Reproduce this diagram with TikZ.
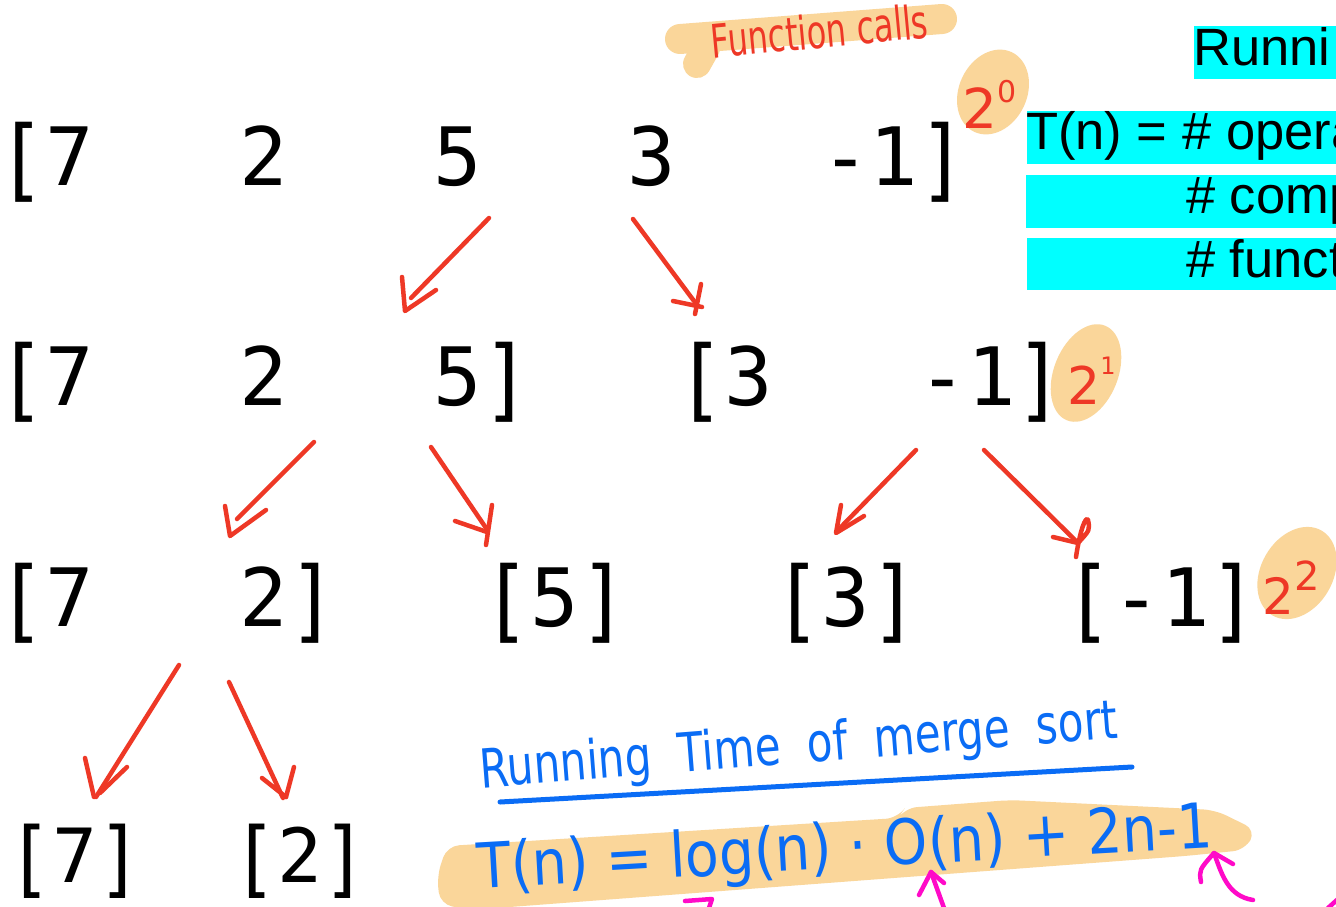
\documentclass[tikz,border=0pt]{standalone}
\usepackage{fontspec}
\usepackage{graphicx}
\newfontfamily\monof{DejaVu Sans Mono}
\newfontfamily\handf{DejaVu Sans}
\newfontfamily\arialf{Liberation Sans}
\definecolor{penred}{RGB}{238,56,38}
\definecolor{penblue}{RGB}{10,108,245}
\definecolor{penmag}{RGB}{255,10,200}
\definecolor{hlc}{RGB}{250,214,154}
\definecolor{cyanc}{RGB}{0,255,255}
\newcommand{\LB}{\raisebox{-5pt}{\scalebox{1}[1.117]{[}}}
\newcommand{\RB}{\raisebox{-5pt}{\scalebox{1}[1.117]{]}}}
\begin{document}
\begin{tikzpicture}[x=1pt,y=-1pt,
  rowtxt/.style={anchor=base west, inner sep=0pt, font=\monof\fontsize{80.5}{90}\selectfont},
  rowsmall/.style={anchor=base west, inner sep=0pt, font=\monof\fontsize{74.75}{84}\selectfont},
  rtxt/.style={anchor=base west, inner sep=0pt, font=\arialf\fontsize{52.5}{56}\selectfont},
  redt/.style={inner sep=0pt, text=penred, font=\handf},
  bluet/.style={inner sep=0pt, text=penblue, font=\handf},
  arr/.style={draw=penred, line width=4.5pt, line cap=round, line join=round},
  mag/.style={draw=penmag, line width=4.5pt, line cap=round, line join=round},
  bline/.style={draw=penblue, line width=5pt, line cap=round},
  cyanbox/.style={fill=cyanc, draw=none}]
\useasboundingbox (0,0) rectangle (1336,906);
\clip (0,0) rectangle (1336,906);
\fill[white] (0,0) rectangle (1336,906);

% ---------- highlighter marks ----------
\draw[hlc, line width=30pt, line cap=round] (680,39) -- (942,19);
\draw[hlc, line width=28pt, line cap=round] (706,48) -- (697,64);
\fill[hlc, rotate around={-25:(993,92)}] (993,92) ellipse [x radius=34, y radius=44];
\fill[hlc, rotate around={-22:(1086,373)}] (1086,373) ellipse [x radius=32, y radius=51];
\fill[hlc, rotate around={-30:(1297,573)}] (1297,573) ellipse [x radius=36, y radius=49];
\fill[hlc, rounded corners=12pt] (437,876) -- (447,846) -- (898,818) -- (905,808)
  -- (1010,800) -- (1215,810) -- (1256,830) -- (1245,850) -- (1185,856)
  -- (470,910) -- (440,904) -- cycle;

% ---------- cyan boxes & right text ----------
\fill[cyanbox] (1194,26) rectangle (1340,79);
\fill[cyanbox] (1027,111) rectangle (1340,164);
\fill[cyanbox] (1026,175) rectangle (1340,228);
\fill[cyanbox] (1027,238) rectangle (1340,290);
\node[rtxt] (rt0) at (1193,65) {Runni};
\node[rtxt] (rt1) at (1026,149) {T(n) = \# opera};
\node[rtxt] (rt2) at (1186,213) {\# comp};
\node[rtxt] (rt3) at (1186,277) {\# funct};

% ---------- arrays ----------
\node[rowtxt] (r1) at (-2.75,185) {\LB 7~~~2~~~5~~~3~~~-1\RB};
\node[rowtxt] (r2a) at (-2.75,405) {\LB 7~~~2~~~5\RB};
\node[rowtxt] (r2b) at (676.25,405) {\LB 3~~~-1\RB};
\node[rowtxt] (r3a) at (-2.75,626) {\LB 7~~~2\RB};
\node[rowtxt] (r3b) at (482.25,626) {\LB 5\RB};
\node[rowtxt] (r3c) at (773.25,626) {\LB 3\RB};
\node[rowtxt] (r3d) at (1064.25,626) {\LB -1\RB};
\node[rowsmall] (r4a) at (7.5,882) {\LB 7\RB};
\node[rowsmall] (r4b) at (232.5,882) {\LB 2\RB};

% ---------- red annotations ----------
\node[redt, rotate=5.4, anchor=base, font=\handf\fontsize{32}{36}\selectfont] (fc) at (821,48) {\scalebox{1}[1.45]{Function calls}};
\node[redt, anchor=base west, font=\handf\fontsize{55}{60}\selectfont] (p0) at (962,128) {2\raisebox{26pt}{\fontsize{30}{30}\selectfont 0}};
\node[redt, anchor=base west, font=\handf\fontsize{52}{56}\selectfont] (p1) at (1067,404) {2\raisebox{30pt}{\fontsize{24}{24}\selectfont 1}};
\node[redt, anchor=base west, font=\handf\fontsize{50}{56}\selectfont] (p2) at (1262,614) {2\raisebox{24pt}{\fontsize{40}{40}\selectfont 2}};

% ---------- red arrows ----------
\coordinate (a1s) at (489,218); \coordinate (a1e) at (411,298);
\coordinate (a2s) at (633,219); \coordinate (a2e) at (694,301);
\coordinate (a3s) at (314,442); \coordinate (a3e) at (237,519);
\coordinate (a4s) at (431,447); \coordinate (a4e) at (486,528);
\coordinate (a5s) at (916,450); \coordinate (a5e) at (840,528);
\coordinate (a6s) at (984,450); \coordinate (a6e) at (1078,543);
\coordinate (a7s) at (179,665); \coordinate (a7e) at (96,797);
\coordinate (a8s) at (229,682); \coordinate (a8e) at (283,798);
\draw[arr] (a1s) -- (a1e);
\draw[arr] (402,277) -- (405,311) -- (436,290);
\draw[arr] (a2s) -- (a2e);
\draw[arr] (701,284) -- (695,314);
\draw[arr] (673,301) -- (702,307);
\draw[arr] (a3s) -- (a3e);
\draw[arr] (225,506) -- (230,536) -- (266,510);
\draw[arr] (a4s) -- (a4e);
\draw[arr] (492,505) -- (486,545);
\draw[arr] (455,521) -- (487,532);
\draw[arr] (a5s) -- (a5e);
\draw[arr] (841,505) -- (836,533) -- (864,516);
\draw[arr] (a6s) -- (a6e);
\draw[arr] (1076,557) .. controls (1080,530) and (1086,515) .. (1088,520) .. controls (1090,530) .. (1078,543);
\draw[arr] (1053,537) -- (1078,543);
\draw[arr] (a7s) -- (a7e);
\draw[arr] (85,758) -- (94,797);
\draw[arr] (127,767) -- (100,793);
\draw[arr] (a8s) -- (a8e);
\draw[arr] (294,767) -- (286,797);
\draw[arr] (262,778) -- (286,797);

% ---------- blue title and equation ----------
\node[bluet, rotate=4.5, anchor=base, font=\handf\fontsize{40}{44}\selectfont] (title) at (800,763) {\scalebox{1.05}[1.35]{Running~~Time~~of~~merge~~sort}};
\coordinate (ul1) at (500,802); \coordinate (ul2) at (1132,767);
\draw[bline] (ul1) -- (ul2);
\node[bluet, rotate=3.25, anchor=base, font=\handf\fontsize{48}{52}\selectfont] (eq) at (846,868) {\scalebox{1.15}[1.3]{T(n) = log(n) · O(n) + 2n-1}};

% ---------- magenta marks ----------
\draw[mag] (685,901) -- (712,899) -- (709,908);
\coordinate (m1s) at (944,908); \coordinate (m1e) at (931,872);
\draw[mag] (m1s) .. controls (938,890) .. (m1e);
\draw[mag] (919,895) -- (m1e) -- (944,883);
\coordinate (m2s) at (1253,900); \coordinate (m2e) at (1214,853);
\draw[mag] (m2s) .. controls (1228,896) and (1222,875) .. (m2e);
\draw[mag] (1201,882) .. controls (1199,870) .. (m2e) -- (1233,864);
\draw[mag] (1328,908) -- (1338,899);
\end{tikzpicture}
\end{document}
